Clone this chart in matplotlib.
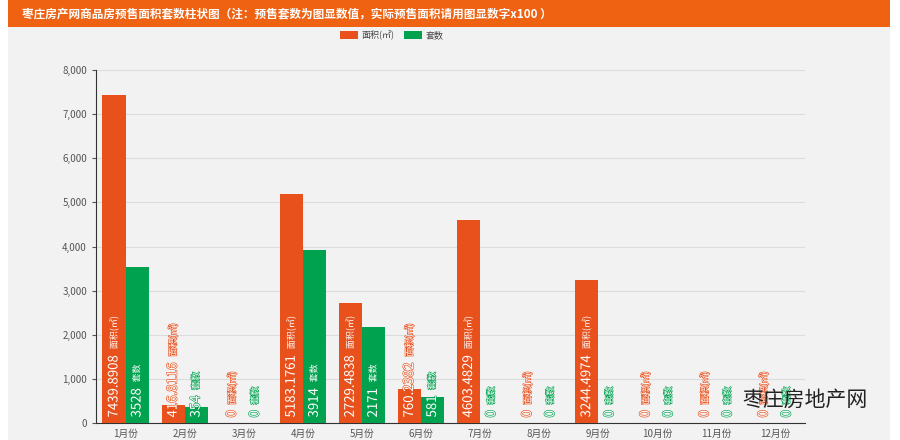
import matplotlib
matplotlib.use('Agg')
import matplotlib.pyplot as plt
import matplotlib.patheffects as pe
from matplotlib.patches import Rectangle, Patch
from matplotlib.ticker import FuncFormatter
import numpy as np

plt.rcParams['font.family'] = ['Noto Sans CJK SC', 'DejaVu Sans']

# 数据
months = ['1月份', '2月份', '3月份', '4月份', '5月份', '6月份',
          '7月份', '8月份', '9月份', '10月份', '11月份', '12月份']
area = [7439.8908, 416.8116, 0, 5183.1761, 2729.4838, 760.2382,
        4603.4829, 0, 3244.4974, 0, 0, 0]
units = [3528, 354, 0, 3914, 2171, 581, 0, 0, 0, 0, 0, 0]
area_labels = ['7439.8908', '416.8116', '0', '5183.1761', '2729.4838', '760.2382',
               '4603.4829', '0', '3244.4974', '0', '0', '0']
unit_labels = [str(v) for v in units]
series_names = ['面积(㎡)', '套数']
title = '枣庄房产网商品房预售面积套数柱状图（注：预售套数为图显数值，实际预售面积请用图显数字x100 ）'

c_area = '#e8501c'
c_unit = '#00a24f'
bg = '#f2f2f2'

fig = plt.figure(figsize=(9, 4.4), dpi=100)
fig.patch.set_facecolor('white')
# 背景和标题栏
fig.patches.append(Rectangle((8 / 900, 0), 882 / 900, 1, transform=fig.transFigure,
                             facecolor=bg, edgecolor='none', zorder=-10))
fig.patches.append(Rectangle((8 / 900, 1 - 27 / 440), 882 / 900, 27 / 440,
                             transform=fig.transFigure, facecolor='#ee6212',
                             edgecolor='none', zorder=-5))
fig.text(22 / 900, 1 - 14 / 440, title, color='white', fontsize=8.4,
         fontweight='bold', va='center', ha='left')

ax = fig.add_axes([96 / 900, 17 / 440, 709 / 900, 353 / 440])
ax.set_facecolor(bg)

x = np.arange(len(months))
w = 0.39
ax.bar(x - w / 2, area, w, color=c_area, zorder=3)
ax.bar(x + w / 2, units, w, color=c_unit, zorder=3)

ax.set_xlim(-0.5, len(months) - 0.5)
ax.set_ylim(0, 8000)
ax.set_yticks(range(0, 8001, 1000))
ax.yaxis.set_major_formatter(FuncFormatter(lambda v, p: f'{int(v):,}'))
ax.set_xticks(x)
ax.set_xticklabels(months)
ax.tick_params(axis='both', labelsize=7, colors='#555555', length=3)
ax.tick_params(axis='x', length=0, pad=4)
ax.grid(axis='y', color='#dcdcdc', linewidth=0.8, zorder=0)
for s in ['top', 'right']:
    ax.spines[s].set_visible(False)
ax.spines['left'].set_color('#333333')
ax.spines['bottom'].set_color('#333333')

# 柱内标签（白字+系列色描边）
fig.canvas.draw()
renderer = fig.canvas.get_renderer()
for i in range(len(months)):
    for xpos, lab, name, col in [(x[i] - w / 2, area_labels[i], series_names[0], c_area),
                                 (x[i] + w / 2, unit_labels[i], series_names[1], c_unit)]:
        effects = [pe.withStroke(linewidth=0.9, foreground=col)]
        t = ax.annotate(lab, (xpos, 0), xytext=(0, 4), textcoords='offset points',
                        rotation=90, ha='center', va='bottom', fontsize=9.5,
                        color='white', zorder=5, path_effects=effects)
        h = t.get_window_extent(renderer).height * 72 / fig.dpi
        ax.annotate(name, (xpos, 0), xytext=(0, 4 + h + 4), textcoords='offset points',
                    rotation=90, ha='center', va='bottom', fontsize=6.5,
                    color='white', zorder=5, path_effects=effects)

# 图例
handles = [Patch(facecolor=c_area, edgecolor='none'), Patch(facecolor=c_unit, edgecolor='none')]
fig.legend(handles, series_names, loc='center', bbox_to_anchor=(392 / 900, 1 - 35 / 440),
           ncol=2, frameon=False, fontsize=6.5, handlelength=2.0, handleheight=0.9,
           columnspacing=1.0, handletextpad=0.4, labelcolor='#444444')

# 水印
fig.text(742 / 900, 1 - 400 / 440, '枣庄房地产网', fontsize=15, color='#222222',
         va='center', ha='left', zorder=10)

fig.savefig('out.png', dpi=100, facecolor=fig.get_facecolor())
